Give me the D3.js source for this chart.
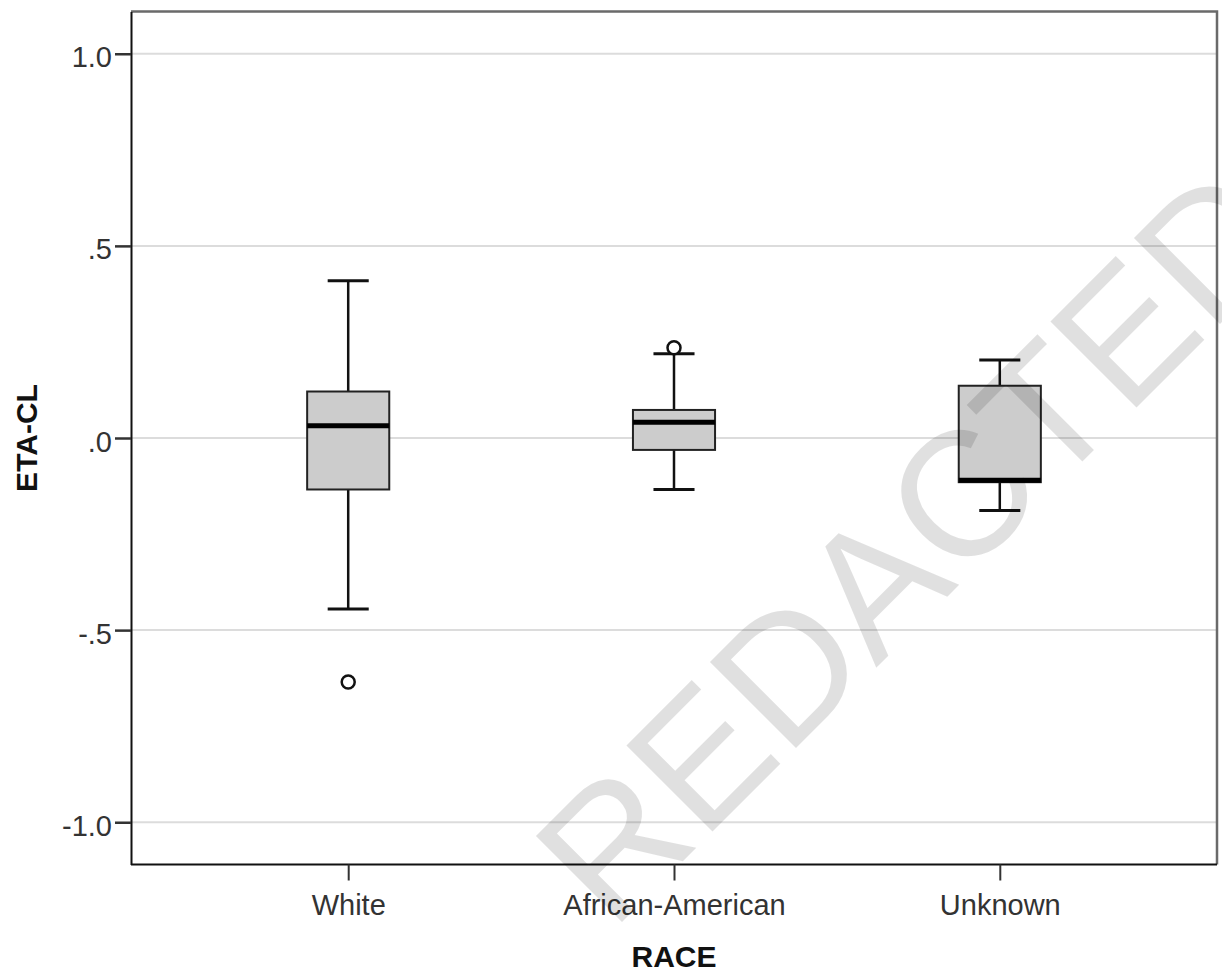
<!DOCTYPE html>
<html>
<head>
<meta charset="utf-8">
<script src="https://cdn.jsdelivr.net/npm/d3@7"></script>
<style>
  html, body { margin: 0; padding: 0; background: #fff; }
  svg { display: block; }
  text { font-family: "Liberation Sans", Arial, sans-serif; }
</style>
</head>
<body>
<svg id="chart" width="1222" height="974"></svg>
<script>
// ---- Data ----
const categories   = ["White", "African-American", "Unknown"];
const whiskerLow   = [-0.445, -0.134, -0.189];
const q1           = [-0.134, -0.031, -0.115];
const median       = [ 0.032,  0.041, -0.110];
const q3           = [ 0.121,  0.073,  0.136];
const whiskerHigh  = [ 0.409,  0.219,  0.203];
const outliers     = [[-0.635], [0.235], []];
const yTicks       = [1, 0.5, 0, -0.5, -1];
const yTickLabels  = ["1.0", ".5", ".0", "-.5", "-1.0"];
const xTitle = "RACE";
const yTitle = "ETA-CL";
const watermark = "REDACTED";

// ---- Layout ----
const frame = { left: 131, right: 1217, top: 11.5, bottom: 864.5 };
const svg = d3.select("#chart");

const x = d3.scalePoint().domain(categories).range([frame.left, frame.right]).padding(0.6667);
const y = d3.scaleLinear().domain([-1.11, 1.11]).range([frame.bottom, frame.top]);
const boxW = x.step() * 0.252;
const capW = x.step() * 0.126;

// gridlines
svg.append("g").selectAll("line").data(yTicks).join("line")
  .attr("x1", frame.left).attr("x2", frame.right)
  .attr("y1", d => y(d)).attr("y2", d => y(d))
  .attr("stroke", "#dcdcdc").attr("stroke-width", 2);

// frame top/right (gray)
svg.append("path")
  .attr("d", `M${frame.left},${frame.top}H${frame.right}V${frame.bottom}`)
  .attr("fill", "none").attr("stroke", "#6a6a6a").attr("stroke-width", 2.5);

// y axis
const yAxis = d3.axisLeft(y).tickValues(yTicks)
  .tickFormat((d, i) => yTickLabels[i]).tickSizeInner(16).tickSizeOuter(0).tickPadding(3);
const gy = svg.append("g").attr("transform", `translate(${frame.left},0)`).call(yAxis);
gy.select(".domain").attr("stroke", "#111").attr("stroke-width", 2);
gy.selectAll(".tick line").attr("stroke", "#333").attr("stroke-width", 2.5);
gy.selectAll(".tick text").attr("font-size", 29).attr("fill", "#333")
  .attr("font-family", "Liberation Sans, Arial, sans-serif").attr("dy", "0.45em");

// x axis
const xAxis = d3.axisBottom(x).tickSizeInner(16).tickSizeOuter(0).tickPadding(14);
const gx = svg.append("g").attr("transform", `translate(0,${frame.bottom})`).call(xAxis);
gx.select(".domain").attr("d", `M${frame.left},0H${frame.right}`)
  .attr("stroke", "#111").attr("stroke-width", 2);
gx.selectAll(".tick line").attr("stroke", "#333").attr("stroke-width", 2);
gx.selectAll(".tick text").attr("font-size", 29).attr("fill", "#333")
  .attr("font-family", "Liberation Sans, Arial, sans-serif").attr("dy", "0.72em");

// axis titles
svg.append("text").attr("x", x("African-American")).attr("y", 967)
  .attr("text-anchor", "middle").attr("font-size", 30).attr("font-weight", "bold")
  .attr("fill", "#111").text(xTitle);
svg.append("text").attr("transform", `translate(37,${y(0)}) rotate(-90)`)
  .attr("text-anchor", "middle").attr("font-size", 30).attr("font-weight", "bold")
  .attr("fill", "#111").text(yTitle);

// boxes
const stats = categories.map((c, i) => ({
  c, lo: whiskerLow[i], q1: q1[i], med: median[i], q3: q3[i], hi: whiskerHigh[i], out: outliers[i]
}));
const g = svg.append("g").selectAll("g").data(stats).join("g");

// whiskers
g.append("line").attr("x1", d => x(d.c)).attr("x2", d => x(d.c))
  .attr("y1", d => y(d.hi)).attr("y2", d => y(d.q3))
  .attr("stroke", "#111").attr("stroke-width", 2.5);
g.append("line").attr("x1", d => x(d.c)).attr("x2", d => x(d.c))
  .attr("y1", d => y(d.q1)).attr("y2", d => y(d.lo))
  .attr("stroke", "#111").attr("stroke-width", 2.5);
// caps
g.append("line").attr("x1", d => x(d.c) - capW / 2).attr("x2", d => x(d.c) + capW / 2)
  .attr("y1", d => y(d.hi)).attr("y2", d => y(d.hi))
  .attr("stroke", "#111").attr("stroke-width", 3);
g.append("line").attr("x1", d => x(d.c) - capW / 2).attr("x2", d => x(d.c) + capW / 2)
  .attr("y1", d => y(d.lo)).attr("y2", d => y(d.lo))
  .attr("stroke", "#111").attr("stroke-width", 3);
// box
g.append("rect").attr("x", d => x(d.c) - boxW / 2).attr("width", boxW)
  .attr("y", d => y(d.q3)).attr("height", d => y(d.q1) - y(d.q3))
  .attr("fill", "#cccccc").attr("stroke", "#222").attr("stroke-width", 2);
// median
g.append("line").attr("x1", d => x(d.c) - boxW / 2).attr("x2", d => x(d.c) + boxW / 2)
  .attr("y1", d => y(d.med)).attr("y2", d => y(d.med))
  .attr("stroke", "#000").attr("stroke-width", 5);
// outliers
g.selectAll("circle").data(d => d.out.map(v => ({ c: d.c, v }))).join("circle")
  .attr("cx", d => x(d.c)).attr("cy", d => y(d.v)).attr("r", 6.5)
  .attr("fill", "#fff").attr("stroke", "#111").attr("stroke-width", 2.5);

// watermark
svg.append("text")
  .attr("transform", "translate(956,588) rotate(-45)")
  .attr("text-anchor", "middle").attr("font-size", 177)
  .attr("fill", "#000").attr("fill-opacity", 0.12)
  .text(watermark);
</script>
</body>
</html>
